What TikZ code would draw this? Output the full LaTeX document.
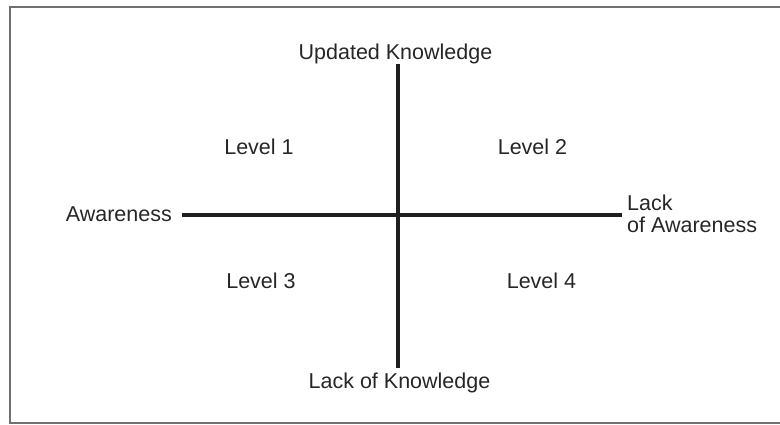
\documentclass[tikz,border=0pt]{standalone}
\usepackage{fontspec}
\setmainfont{Liberation Sans}
\definecolor{txt}{HTML}{262626}
\definecolor{axis}{HTML}{1E1E1E}
\definecolor{frame}{HTML}{707070}
\begin{document}
\begin{tikzpicture}[x=1pt,y=-1pt,
  lbl/.style={inner sep=0pt, text=txt, font=\fontsize{21.5}{22}\selectfont},
  axisline/.style={draw=axis, line width=4pt},
  framestyle/.style={draw=frame, line width=1.5pt}]
\useasboundingbox (0,0) rectangle (780,424);
% frame (right side lies outside the picture)
\draw[framestyle] (785,7) -- (10,7) -- (10,423) -- (785,423);
% labels
\node[lbl, anchor=base] (uk) at (395.5,59) {Updated Knowledge};
\node[lbl, anchor=base] (lk) at (399.5,388) {Lack of Knowledge};
\node[lbl, anchor=base east] (aw) at (172,221) {Awareness};
\node[lbl, anchor=base west, align=left] (law) at (627,232) {Lack\\of Awareness};
\node[lbl, anchor=base] (l1) at (259,154) {Level 1};
\node[lbl, anchor=base] (l2) at (532.5,154) {Level 2};
\node[lbl, anchor=base] (l3) at (261,288) {Level 3};
\node[lbl, anchor=base] (l4) at (541.5,288) {Level 4};
% axes
\coordinate (vtop) at (398,64);
\coordinate (vbot) at (398,368);
\coordinate (hleft) at (182,215);
\coordinate (hright) at (622,215);
\draw[axisline] (vtop) -- (vbot);
\draw[axisline] (hleft) -- (hright);
\end{tikzpicture}
\end{document}
